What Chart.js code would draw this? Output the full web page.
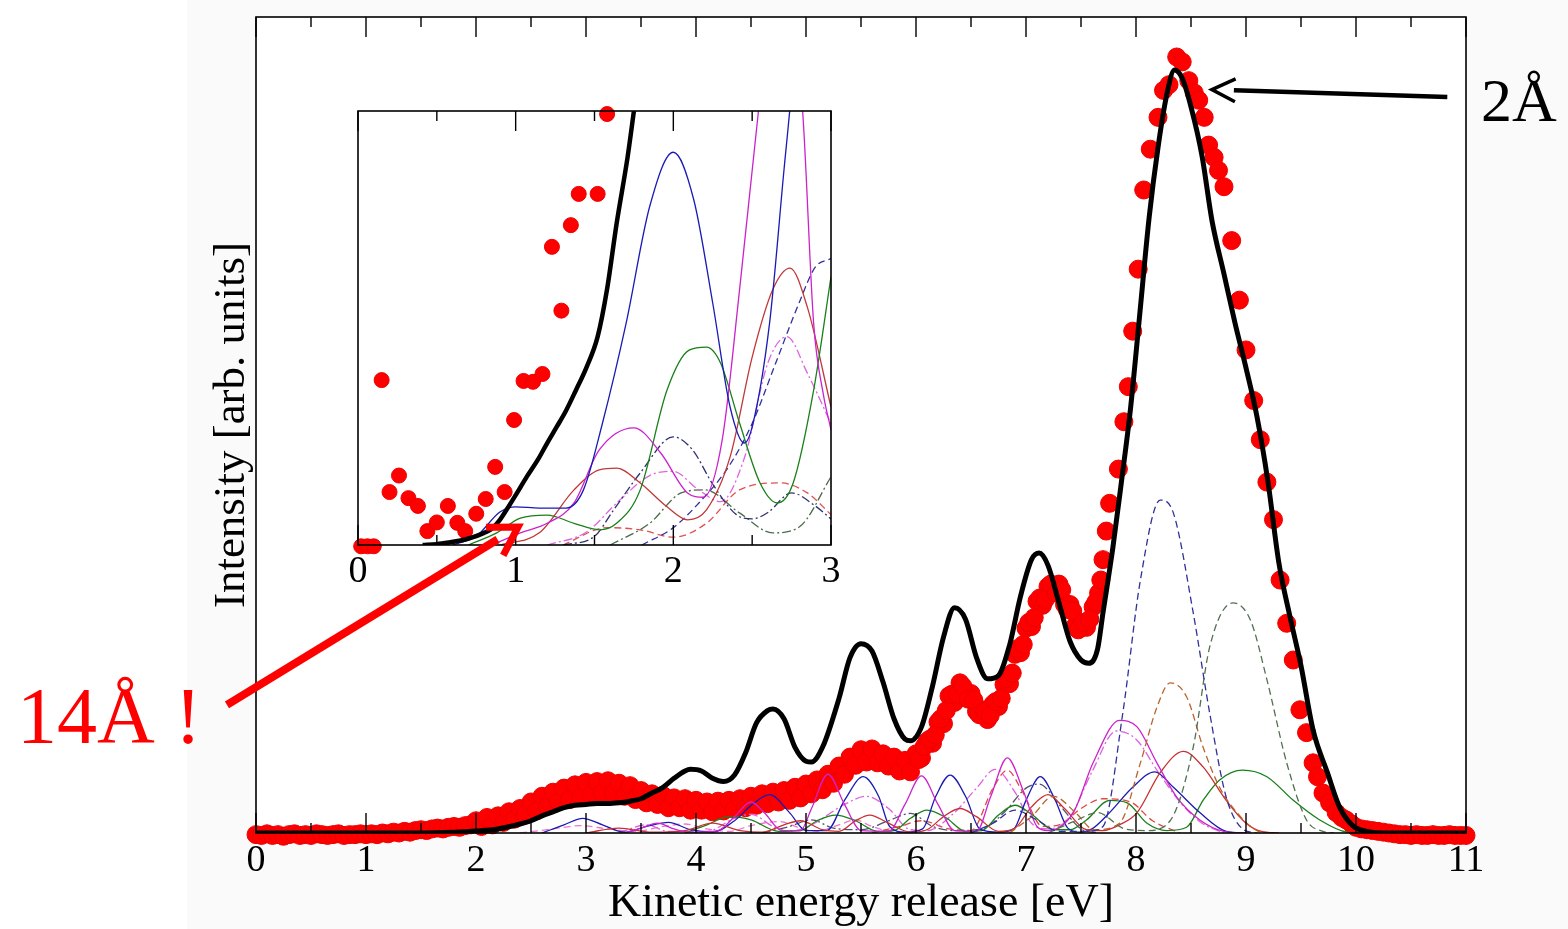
<!DOCTYPE html>
<html><head><meta charset="utf-8">
<script src="https://cdn.jsdelivr.net/npm/chart.js@4.4.1/dist/chart.umd.min.js"></script>
<style>
html,body{margin:0;padding:0;background:#fff;}
#wrap{position:relative;width:1568px;height:929px;overflow:hidden;background:#fff;}
#bg{position:absolute;left:187px;top:0;width:1381px;height:929px;background:#fafafa;}
canvas{position:absolute;left:0;top:0;}
.lbl{position:absolute;font-family:'Liberation Serif','Times New Roman',serif;white-space:nowrap;}
</style></head><body>
<div id="wrap">
<div id="bg"></div>
<canvas id="main" width="1568" height="929"></canvas>
<canvas id="inset" width="1568" height="929"></canvas>
<div class="lbl" style="left:1481px;top:69px;font-size:62px;line-height:62px;color:#000;">2Å</div>
<div class="lbl" style="left:17px;top:676px;font-size:80px;line-height:80px;color:#ff0000;">14Å !</div>
</div>
<script>
// ---------- MAIN PANEL DATA (x: kinetic energy release [eV], y: intensity, arb. units) ----------
const expData = [
[0.00,-0.2],[0.05,-0.3],[0.10,-0.1],[0.15,-0.3],[0.20,-0.2],[0.25,-0.4],[0.30,-0.2],[0.35,-0.1],[0.40,-0.3],[0.45,-0.2],
[0.50,-0.3],[0.55,-0.1],[0.60,-0.2],[0.65,-0.3],[0.70,-0.2],[0.75,-0.1],[0.80,-0.3],[0.85,-0.2],[0.90,-0.2],[0.95,-0.1],
[1.00,-0.2],[1.05,-0.1],[1.10,-0.2],[1.15,0.0],[1.20,-0.1],[1.25,0.1],[1.30,0.0],[1.35,0.2],[1.40,0.1],[1.45,0.3],
[1.50,0.4],[1.55,0.3],[1.60,0.5],[1.65,0.6],[1.70,0.5],[1.75,0.7],[1.80,0.8],[1.85,0.7],[1.90,0.9],[1.95,1.0],
[2.00,1.5],[2.05,0.8],[2.10,1.9],[2.15,1.0],[2.20,2.1],[2.25,1.3],[2.30,2.6],[2.35,1.7],[2.40,3.0],[2.45,2.2],
[2.50,3.8],[2.55,2.7],[2.60,4.5],[2.65,3.3],[2.70,5.0],[2.75,3.8],[2.80,5.5],[2.85,4.1],[2.90,5.9],[2.95,4.4],
[3.00,6.2],[3.05,4.7],[3.10,6.3],[3.15,4.9],[3.20,6.4],[3.25,4.8],[3.30,6.1],[3.35,4.5],[3.40,5.8],[3.45,4.1],
[3.50,5.2],[3.55,3.7],[3.60,4.8],[3.65,3.5],[3.70,4.6],[3.75,3.1],[3.80,4.3],[3.85,3.1],[3.90,4.2],[3.95,2.8],
[4.00,4.0],[4.05,2.8],[4.10,3.8],[4.15,2.6],[4.20,3.9],[4.25,2.7],[4.30,4.0],[4.35,2.9],[4.40,4.2],[4.45,3.1],
[4.50,4.5],[4.55,3.4],[4.60,4.8],[4.65,3.6],[4.70,5.0],[4.75,3.8],[4.80,5.2],[4.85,4.0],[4.90,5.6],[4.95,4.3],
[5.00,6.0],[5.05,4.8],[5.10,6.5],[5.15,5.3],[5.20,7.2],[5.25,6.1],[5.30,8.2],[5.35,7.2],[5.40,9.3],[5.45,8.3],
[5.50,10.2],[5.55,8.7],[5.60,10.3],[5.65,8.6],[5.70,9.7],[5.75,8.2],[5.80,9.3],[5.85,7.6],[5.90,8.9],[5.95,7.5],
[6.00,9.7],[6.05,9.2],[6.10,11.2],[6.15,11.0],[6.20,13.6],[6.25,13.4],[6.30,16.8],[6.35,16.0],[6.40,18.4],[6.45,16.7],
[6.50,17.1],[6.55,14.9],[6.60,15.1],[6.65,13.9],[6.70,15.8],[6.75,15.5],[6.80,18.2],[6.85,18.3],[6.90,21.9],[6.95,22.1],
[7.00,25.1],[7.05,25.3],[7.10,28.4],[7.15,27.9],[7.20,30.2],[7.25,29.5],[7.30,30.5],[7.35,28.0],[7.40,28.0],[7.45,25.4],
[7.50,25.5],[7.55,25.2],[7.61,27.7],[7.66,29.4],[7.70,33.5],[7.76,40.4],[7.84,44.6],[7.89,50.4],[7.93,54.7],[7.97,61.5],
[8.02,69.1],[8.07,78.8],[8.13,83.8],[8.20,87.7],[8.25,91.0],[8.30,91.7],[8.37,95.1],[8.42,94.5],[8.48,92.2],[8.53,90.7],
[8.57,89.8],[8.62,87.7],[8.66,84.3],[8.71,82.8],[8.75,81.2],[8.80,79.2],[8.87,72.6],[8.94,65.3],[9.00,59.2],[9.07,53.0],
[9.13,48.2],[9.19,43.0],[9.25,38.4],[9.31,31.0],[9.37,25.7],[9.43,21.2],[9.49,15.1],[9.55,12.3],[9.61,8.6],[9.65,6.9],
[9.70,4.9],[9.76,3.7],[9.82,2.5],[9.87,1.9],[9.91,1.6],[9.96,1.1],[10.00,0.7],[10.05,0.5],[10.10,0.4],[10.15,0.3],
[10.20,0.2],[10.25,0.1],[10.30,0.0],[10.35,-0.1],[10.40,-0.2],[10.45,-0.2],[10.50,-0.3],[10.55,-0.2],[10.60,-0.3],[10.65,-0.3],
[10.70,-0.2],[10.75,-0.3],[10.80,-0.3],[10.85,-0.2],[10.90,-0.3],[10.95,-0.3],[11.00,-0.3]
];
// extra measured points in the densely sampled 6-7.7 eV region
const expDataExtra = [
[6.025,9.0],[6.075,10.6],[6.125,11.5],[6.175,12.0],[6.225,14.0],[6.275,15.0],[6.325,17.0],[6.375,17.0],[6.425,18.0],[6.475,16.4],
[6.525,16.3],[6.575,14.5],[6.625,14.9],[6.675,14.4],[6.725,16.1],[6.775,16.5],[6.825,18.9],[6.875,19.6],[6.925,22.6],[6.975,23.1],
[7.025,25.8],[7.075,26.4],[7.125,28.8],[7.175,28.6],[7.225,30.5],[7.275,29.4],[7.325,29.8],[7.375,27.4],[7.425,27.2],[7.475,24.9],
[7.525,25.8],[7.58,26.2],[7.635,28.3],[7.68,31.0],[7.73,37.0]
];
const theoryData = [
[0,0],[1.5,0],[1.8,0.1],[2.0,0.25],[2.2,0.5],[2.4,1.1],[2.5,1.5],[2.6,2.1],[2.7,2.6],[2.8,3.1],[2.9,3.4],[3.0,3.5],
[3.1,3.6],[3.2,3.6],[3.3,3.7],[3.4,3.9],[3.5,4.2],[3.6,4.9],[3.7,5.6],[3.8,6.7],[3.9,7.6],[3.95,7.8],[4.05,7.6],
[4.15,6.7],[4.25,6.3],[4.35,7.1],[4.45,9.8],[4.55,13.5],[4.65,15.0],[4.7,15.2],[4.8,14.0],[4.9,10.5],[5.0,8.8],
[5.05,8.7],[5.15,10.5],[5.3,16.5],[5.4,21.5],[5.5,23.2],[5.6,22.3],[5.7,18.5],[5.8,14.0],[5.9,11.5],[5.95,11.3],
[6.05,13.0],[6.15,18.0],[6.25,24.0],[6.35,27.6],[6.45,26.2],[6.55,21.5],[6.65,18.9],[6.75,19.3],[6.85,23.0],
[6.95,29.0],[7.05,33.5],[7.12,34.3],[7.2,32.8],[7.3,28.2],[7.4,23.5],[7.5,21.2],[7.57,20.8],[7.65,22.5],[7.7,27.0],
[7.79,35.0],[7.87,43.3],[7.95,52.0],[8.03,63.0],[8.12,75.5],[8.2,84.0],[8.28,90.5],[8.35,93.5],[8.42,92.5],[8.5,89.0],
[8.6,83.0],[8.69,75.1],[8.8,68.5],[8.9,62.5],[9.0,57.0],[9.1,51.0],[9.2,43.0],[9.3,33.0],[9.4,26.5],[9.5,20.5],
[9.61,12.6],[9.74,7.4],[9.85,3.2],[9.97,0.9],[10.1,0.2],[10.3,0],[11,0]
];
const compBlueSolid = [
[2.6,0],[2.8,1.0],[2.97,1.8],[3.15,1.0],[3.35,0.1],[3.55,0.8],[3.75,1.3],[3.95,0.4],[4.15,0.1],[4.35,1.5],[4.52,3.6],
[4.67,4.7],[4.85,2.5],[5.0,0.3],[5.19,0.3],[5.35,4.0],[5.52,6.9],[5.66,4.5],[5.76,0.8],[5.9,0.1],[6.06,0.5],[6.18,4.5],
[6.31,7.1],[6.45,4.5],[6.58,0.5],[6.75,0.1],[6.89,0.5],[7.0,4.0],[7.13,6.9],[7.26,4.2],[7.38,0.6],[7.5,0.1],[7.6,0.5],
[7.76,2.5],[7.97,5.6],[8.17,7.5],[8.34,5.6],[8.58,2.5],[8.82,0.2],[9.0,0]
];
const compMagentaSolid = [
[3.35,0],[3.5,0.6],[3.65,1.2],[3.8,0.5],[3.95,0.1],[4.2,0.3],[4.35,2.0],[4.5,3.8],[4.62,2.5],[4.78,0.3],[4.95,0.3],
[5.05,3.0],[5.2,7.2],[5.35,3.5],[5.5,0.3],[5.75,0.2],[5.9,3.5],[6.05,7.0],[6.2,3.5],[6.35,0.3],[6.55,0.2],[6.68,4.5],
[6.83,9.2],[6.98,5.0],[7.1,0.8],[7.2,0.3],[7.43,2.5],[7.61,8.6],[7.85,13.8],[8.01,13.0],[8.19,8.6],[8.37,4.4],[8.58,1.6],
[8.8,0.2],[9.0,0]
];
const compGreenSolid = [
[3.9,0],[4.1,1.0],[4.3,2.0],[4.5,1.6],[4.75,0.2],[4.95,0.3],[5.1,1.5],[5.27,2.2],[5.45,1.5],[5.65,0.2],[5.8,0.3],
[5.95,1.8],[6.1,2.8],[6.27,1.9],[6.45,0.2],[6.6,0.3],[6.75,2.2],[6.9,3.4],[7.05,2.3],[7.25,0.4],[7.4,0.4],[7.55,1.6],
[7.76,4.0],[7.92,3.7],[8.1,1.2],[8.28,0.3],[8.46,0.7],[8.61,4.0],[8.76,6.5],[8.97,7.7],[9.19,6.9],[9.43,4.0],[9.67,1.6],
[9.92,0.1],[10.1,0]
];
const compRedSolid = [
[3.0,0],[3.3,0.6],[3.6,0.1],[3.9,0.3],[4.15,1.2],[4.4,0.3],[4.6,0.1],[4.8,1.0],[4.95,1.5],[5.15,0.4],[5.3,0.2],
[5.45,1.5],[5.58,2.2],[5.75,1.2],[5.95,0.1],[6.1,0.4],[6.25,2.0],[6.4,3.0],[6.55,2.0],[6.75,0.2],[6.9,0.6],[7.05,3.2],
[7.2,4.7],[7.35,3.0],[7.55,0.4],[7.7,0.3],[7.85,1.0],[8.01,2.5],[8.22,7.4],[8.43,10.0],[8.61,8.1],[8.82,4.0],[9.0,1.2],
[9.14,0.2],[9.3,0]
];
const compBlueDash = [
[6.5,0],[6.7,1.2],[6.9,2.8],[7.1,1.6],[7.3,0.2],[7.55,0.2],[7.7,0.8],[7.88,14.7],[8.04,31.0],[8.22,40.8],[8.34,39.2],
[8.52,27.0],[8.67,14.7],[8.82,4.4],[8.97,0.5],[9.1,0]
];
const compGreenDash = [
[7.2,0],[7.45,1.5],[7.65,2.5],[7.9,0.5],[8.1,0.3],[8.31,1.5],[8.52,10.5],[8.67,22.8],[8.88,28.2],[9.04,26.1],
[9.19,18.8],[9.37,8.6],[9.55,1.6],[9.7,0.2],[9.8,0]
];
const compBrownDash = [
[6.85,0],[7.05,2.0],[7.25,4.5],[7.45,2.5],[7.62,0.4],[7.85,1.2],[8.04,8.6],[8.19,15.4],[8.31,18.4],[8.46,16.7],
[8.61,10.5],[8.76,5.6],[8.95,2.0],[9.1,0.3],[9.2,0]
];
const compMagentaDash = [
[3.3,0],[3.55,1.0],[3.75,0.2],[4.1,0.2],[4.35,1.8],[4.5,2.3],[4.7,0.8],[4.85,0.2],[5.05,1.0],[5.35,3.5],[5.55,4.5],
[5.75,3.0],[5.95,0.4],[6.1,0.3],[6.35,2.5],[6.55,5.5],[6.72,7.8],[6.9,5.0],[7.05,1.2],[7.2,0.5],[7.4,2.0],[7.6,7.5],
[7.82,12.5],[8.0,11.5],[8.2,7.5],[8.4,3.8],[8.6,1.2],[8.8,0]
];
const compRedDash = [
[5.6,0],[5.85,0.8],[6.05,1.5],[6.3,0.5],[6.5,0.3],[6.7,5.5],[6.83,7.7],[6.97,5.0],[7.15,0.8],[7.3,1.0],[7.5,3.0],
[7.7,4.2],[7.95,3.8],[8.15,1.5],[8.4,0]
];
const compDarkDashDot = [
[4.6,0],[4.85,0.8],[5.05,1.6],[5.25,0.6],[5.5,0.4],[5.75,1.5],[5.95,2.4],[6.15,0.8],[6.35,0.3],[6.6,0.5],[6.8,2.5],
[7.0,5.5],[7.12,6.0],[7.3,3.5],[7.5,0.5],[7.65,0]
];
const compPinkLow = [
[2.4,0],[2.7,0.5],[2.95,0.9],[3.2,0.5],[3.45,0.2],[3.7,0.8],[3.9,1.1],[4.1,0.5],[4.3,0.2],[4.5,0.9],[4.75,1.4],
[4.95,0.6],[5.1,0.2],[5.3,1.0],[5.45,1.6],[5.6,0.8],[5.8,0.1],[6.0,0]
];

// ---------- INSET DATA (x: 0-3 eV, magnified intensity) ----------
const insetExp = [
[0.02,-0.3],[0.06,-0.3],[0.10,-0.3],[0.15,38.0],[0.20,12.2],[0.26,16.0],[0.32,10.8],[0.38,9.0],[0.44,3.2],[0.50,5.2],
[0.57,9.0],[0.63,5.1],[0.68,3.2],[0.75,7.2],[0.81,10.6],[0.87,18.0],[0.93,12.2],[0.99,28.8],[1.05,37.8],[1.11,37.6],
[1.17,39.4],[1.23,68.7],[1.29,54.0],[1.35,73.7],[1.40,80.9],[1.52,80.9],[1.58,99.3]
];
const insetTheory = [
[0.41,0],[0.5,0.2],[0.58,0.6],[0.66,1.1],[0.73,1.8],[0.8,2.8],[0.84,3.5],[0.9,5.8],[0.94,8.0],[1.0,11.5],[1.07,15.7],
[1.14,19.6],[1.2,23.5],[1.26,27.2],[1.32,31.0],[1.38,35.5],[1.45,41.0],[1.52,48.0],[1.58,59.0],[1.64,74.0],[1.71,89.4],
[1.75,100],[1.78,108]
];
const insetBlueSolid = [
[0.6,0],[0.75,2.0],[0.9,7.6],[1.0,8.8],[1.15,8.5],[1.32,8.5],[1.43,12.7],[1.55,28.0],[1.7,51.0],[1.85,78.0],[2.0,90.5],
[2.13,79.5],[2.25,55.7],[2.36,31.8],[2.45,23.5],[2.5,27.2],[2.61,51.0],[2.7,85.7],[2.75,105],[2.8,130],[2.9,160],[3.0,170]
];
const insetMagentaSolid = [
[0.85,0],[1.03,2.8],[1.2,5.0],[1.37,9.7],[1.53,21.9],[1.75,27.0],[1.92,21.2],[2.09,12.0],[2.19,11.0],[2.31,24.2],
[2.42,58.8],[2.54,100],[2.62,125],[2.7,132],[2.78,112],[2.82,100],[2.89,51.0],[2.95,35.0],[3.0,26.5]
];
const insetGreenSolid = [
[0.7,0],[0.88,2.8],[1.03,6.2],[1.2,6.9],[1.37,5.0],[1.53,3.5],[1.64,5.0],[1.79,12.7],[1.96,35.7],[2.1,44.9],[2.21,45.6],
[2.3,41.9],[2.42,28.1],[2.55,14.3],[2.66,9.7],[2.76,14.3],[2.89,35.7],[3.0,61.8]
];
const insetRedSolid = [
[0.9,0],[1.15,2.8],[1.37,12.7],[1.53,17.3],[1.64,17.7],[1.79,14.3],[1.96,8.8],[2.09,5.8],[2.21,8.1],[2.36,20.3],
[2.5,43.3],[2.63,58.8],[2.74,63.8],[2.85,54.8],[3.0,31.8]
];
const insetNavyDashDot = [
[1.3,0],[1.5,2.0],[1.62,8.0],[1.79,16.6],[2.0,24.9],[2.12,22.0],[2.25,14.0],[2.4,7.0],[2.5,6.0],[2.6,7.5],[2.75,12.0],
[2.9,9.0],[3.0,6.0]
];
const insetBlueDash = [
[1.8,0],[2.0,4.0],[2.17,10.0],[2.35,18.0],[2.5,28.0],[2.65,42.0],[2.8,56.0],[2.9,64.0],[3.0,66.0]
];
const insetMagentaDash = [
[1.2,0],[1.45,3.0],[1.65,10.0],[1.85,16.0],[2.0,17.0],[2.15,13.0],[2.3,10.0],[2.45,20.0],[2.6,42.0],[2.72,48.0],
[2.85,39.6],[3.0,28.0]
];
const insetGreenDash = [
[1.6,0],[1.85,5.0],[2.05,12.0],[2.2,12.7],[2.42,7.4],[2.63,2.8],[2.8,4.2],[3.0,15.7]
];
const insetRedDash = [
[1.3,0],[1.58,4.0],[1.79,3.5],[2.0,1.8],[2.21,5.0],[2.42,12.7],[2.68,14.3],[2.85,12.0],[3.0,7.0]
];

// ---------- annotation anchors (in data coordinates) ----------
const arrow2A = {from:[10.83,90.2], to:[8.69,91.1]};          // main panel coords
const arrow14A = {fromMain:[-0.264,15.7], toInset:[1.015,4.15]}; // tail in main, tip in inset

// ---------- styles ----------
const SERIF = "'Liberation Serif','Times New Roman',serif";
Chart.defaults.font.family = SERIF;
Chart.defaults.color = '#000';
const DASH = [7,4], DASHDOT = [9,3,2,3];

function lineDs(data, color, dash, width, order){
  return {type:'line', data, borderColor:color, borderWidth:width||1.3, borderDash:dash||[], pointRadius:0,
    fill:false, cubicInterpolationMode:'monotone', order:order===undefined?1:order};
}

function drawArrow(ctx, tail, tip, o){
  const ang = Math.atan2(tip[1]-tail[1], tip[0]-tail[0]);
  const base = [tip[0]-Math.cos(ang)*o.gap, tip[1]-Math.sin(ang)*o.gap];
  ctx.save();
  ctx.strokeStyle = o.color; ctx.lineCap='butt'; ctx.lineJoin='miter';
  ctx.lineWidth = o.width;
  ctx.beginPath(); ctx.moveTo(tail[0],tail[1]); ctx.lineTo(base[0],base[1]); ctx.stroke();
  ctx.lineWidth = o.headWidth;
  const ha = o.headAngle*Math.PI/180;
  ctx.beginPath();
  ctx.moveTo(tip[0]-o.headLen*Math.cos(ang-ha), tip[1]-o.headLen*Math.sin(ang-ha));
  ctx.lineTo(tip[0],tip[1]);
  ctx.lineTo(tip[0]-o.headLen*Math.cos(ang+ha), tip[1]-o.headLen*Math.sin(ang+ha));
  ctx.stroke();
  ctx.restore();
}

function drawFrameAndTicks(chart, majorLen, minorLen){
  const {ctx, chartArea:a} = chart;
  const xs = chart.scales.x;
  ctx.save();
  ctx.strokeStyle='#000'; ctx.lineWidth=1.6;
  ctx.strokeRect(a.left, a.top, a.right-a.left, a.bottom-a.top);
  ctx.lineWidth=1.4;
  const vals = xs.ticks.map(t=>t.value);
  ctx.beginPath();
  vals.forEach((v,i)=>{
    const p = xs.getPixelForValue(v);
    ctx.moveTo(p,a.bottom); ctx.lineTo(p,a.bottom-majorLen);
    ctx.moveTo(p,a.top); ctx.lineTo(p,a.top+majorLen);
    if(i<vals.length-1){
      const pm = xs.getPixelForValue((v+vals[i+1])/2);
      ctx.moveTo(pm,a.bottom); ctx.lineTo(pm,a.bottom-minorLen);
      ctx.moveTo(pm,a.top); ctx.lineTo(pm,a.top+minorLen);
    }
  });
  ctx.stroke();
  ctx.restore();
}

const whiteArea = {id:'whiteArea', beforeDatasetsDraw(chart){
  const {ctx, chartArea:a} = chart; ctx.save(); ctx.fillStyle='#fff';
  ctx.fillRect(a.left,a.top,a.right-a.left,a.bottom-a.top); ctx.restore();
}};

const mainDecor = {id:'mainDecor', afterDraw(chart){
  drawFrameAndTicks(chart, 20, 10);
  const xs=chart.scales.x, ys=chart.scales.y;
  drawArrow(chart.ctx,
    [xs.getPixelForValue(arrow2A.from[0]), ys.getPixelForValue(arrow2A.from[1])],
    [xs.getPixelForValue(arrow2A.to[0]), ys.getPixelForValue(arrow2A.to[1])],
    {color:'#000', width:4.5, headWidth:3.5, headLen:26, headAngle:26, gap:22});
}};

const mainChart = new Chart(document.getElementById('main'), {
  type:'line',
  data:{datasets:[
    lineDs(theoryData,'#000',[],5,0),
    lineDs(compBlueDash,'#30309a',DASH,1.3,1),
    lineDs(compGreenDash,'#527052',DASH,1.3,1),
    lineDs(compBrownDash,'#b8642c',DASH,1.3,1),
    lineDs(compMagentaSolid,'#cc22cc',[],1.3,1),
    lineDs(compRedSolid,'#c83030',[],1.3,1),
    lineDs(compBlueSolid,'#1a1ab4',[],1.3,1),
    lineDs(compGreenSolid,'#1a801a',[],1.3,1),
    lineDs(compMagentaDash,'#e060e0',DASHDOT,1.3,1),
    lineDs(compRedDash,'#e04848',DASH,1.3,1),
    lineDs(compDarkDashDot,'#505070',DASHDOT,1.3,1),
    lineDs(compPinkLow,'#ee77cc',DASH,1.3,1),
    {type:'line', data:expData.concat(expDataExtra), showLine:false, pointRadius:9, pointBackgroundColor:'#ff0000',
     pointBorderColor:'#ee0000', pointBorderWidth:1, order:5, clip:14}
  ]},
  options:{
    responsive:false, animation:false, events:[],
    layout:{padding:{left:210,right:102,top:17,bottom:2}},
    plugins:{legend:{display:false}, tooltip:{enabled:false}},
    scales:{
      x:{type:'linear', min:0, max:11,
        ticks:{stepSize:1, autoSkip:false, maxRotation:0, padding:5, color:'#000',
          font:{family:SERIF, size:38, lineHeight:1.2}},
        grid:{display:false, drawTicks:false}, border:{display:false},
        title:{display:true, text:'Kinetic energy release [eV]', color:'#000', padding:0,
          font:{family:SERIF, size:46, lineHeight:1.0}},
        afterFit(s){ s.height = 94; }
      },
      y:{type:'linear', min:0, max:100,
        ticks:{display:false}, grid:{display:false, drawTicks:false}, border:{display:false},
        title:{display:true, text:'Intensity [arb. units]', color:'#000', padding:0,
          font:{family:SERIF, size:45, lineHeight:1.0}},
        afterFit(s){ s.width = 46; }
      }
    }
  },
  plugins:[whiteArea, mainDecor]
});

const insetDecor = {id:'insetDecor', afterDraw(chart){
  drawFrameAndTicks(chart, 20, 10);
  const xs=chart.scales.x, ys=chart.scales.y;
  const mx=mainChart.scales.x, my=mainChart.scales.y;
  drawArrow(chart.ctx,
    [mx.getPixelForValue(arrow14A.fromMain[0]), my.getPixelForValue(arrow14A.fromMain[1])],
    [xs.getPixelForValue(arrow14A.toInset[0]), ys.getPixelForValue(arrow14A.toInset[1])],
    {color:'#ff0000', width:8, headWidth:7, headLen:32, headAngle:31, gap:24});
}};

new Chart(document.getElementById('inset'), {
  type:'line',
  data:{datasets:[
    lineDs(insetTheory,'#000',[],4.5,0),
    lineDs(insetBlueSolid,'#1a1ab4',[],1.3,2),
    lineDs(insetMagentaSolid,'#cc22cc',[],1.3,2),
    lineDs(insetGreenSolid,'#1a801a',[],1.3,2),
    lineDs(insetRedSolid,'#c03838',[],1.3,2),
    lineDs(insetNavyDashDot,'#303070',DASHDOT,1.3,2),
    lineDs(insetBlueDash,'#3030a0',DASH,1.3,2),
    lineDs(insetMagentaDash,'#dd66dd',DASHDOT,1.3,2),
    lineDs(insetGreenDash,'#4a6a4a',DASHDOT,1.3,2),
    lineDs(insetRedDash,'#e05050',DASH,1.3,2),
    {type:'line', data:insetExp, showLine:false, pointRadius:7.5, pointBackgroundColor:'#ff0000',
     pointBorderColor:'#ee0000', pointBorderWidth:1, order:1, clip:12}
  ]},
  options:{
    responsive:false, animation:false, events:[],
    layout:{padding:{left:358,right:737,top:111,bottom:334}},
    plugins:{legend:{display:false}, tooltip:{enabled:false}},
    scales:{
      x:{type:'linear', min:0, max:3,
        ticks:{stepSize:1, autoSkip:false, maxRotation:0, padding:4, color:'#000',
          font:{family:SERIF, size:38, lineHeight:1.2}},
        grid:{display:false, drawTicks:false}, border:{display:false},
        afterFit(s){ s.height = 50; }
      },
      y:{type:'linear', min:0, max:100, display:false}
    }
  },
  plugins:[whiteArea, insetDecor]
});
</script>
</body></html>
